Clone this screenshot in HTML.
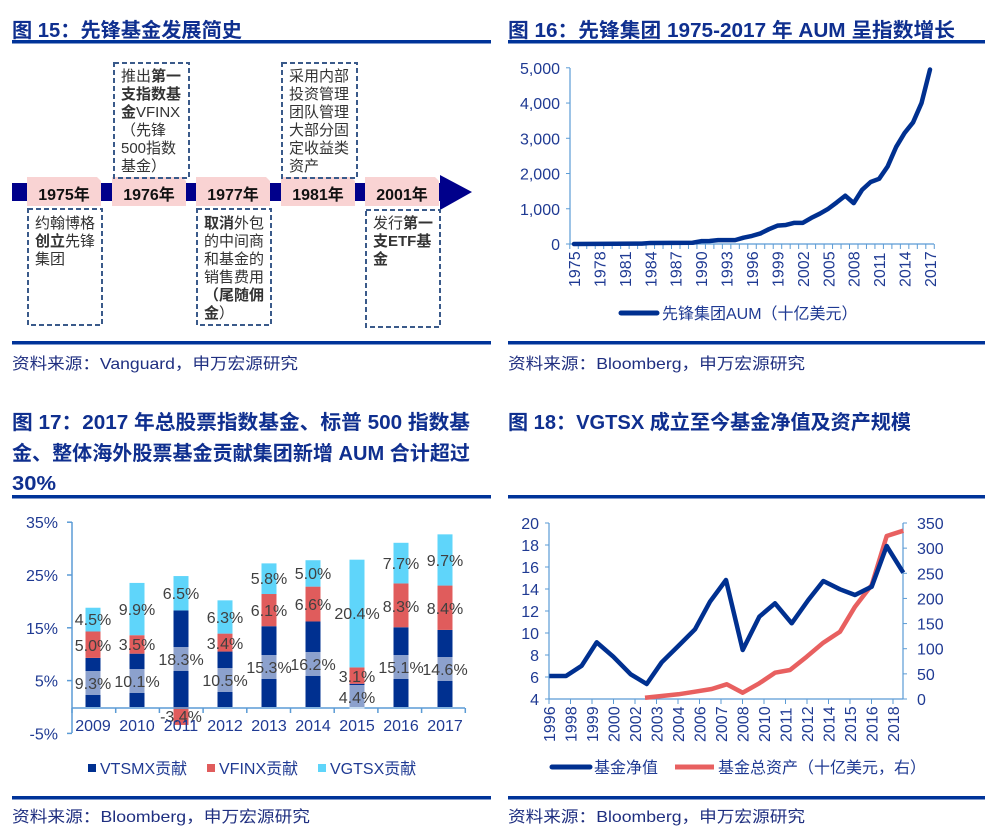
<!DOCTYPE html>
<html><head><meta charset="utf-8"><style>
html,body{margin:0;padding:0;background:#fff;}
svg{display:block;font-family:"Liberation Sans","Noto Sans CJK SC",sans-serif;}
.t{font-weight:bold;fill:#0f2f8f;font-size:20px;}
.src{fill:#1f2f80;font-size:16px;}
.ax{fill:#1f3a93;font-size:16px;}
.bx{font-size:15px;fill:#333;}
.yr{font-size:16px;font-weight:bold;fill:#111;text-anchor:middle;}
.lb{font-size:16px;fill:#404040;text-anchor:middle;}
</style></head><body>
<svg id="s" width="995" height="837" viewBox="0 0 995 837" xmlns="http://www.w3.org/2000/svg">
<!-- titles -->
<text class="t" x="12" y="37" textLength="230" lengthAdjust="spacingAndGlyphs">图 15：先锋基金发展简史</text>
<text class="t" x="508" y="37" textLength="447" lengthAdjust="spacingAndGlyphs">图 16：先锋集团 1975-2017 年 AUM 呈指数增长</text>
<rect x="12" y="40" width="479" height="3.5" fill="#003399"/>
<rect x="508" y="40" width="477" height="3.5" fill="#003399"/>
<rect x="12" y="341" width="479" height="3.5" fill="#003399"/>
<rect x="508" y="341" width="477" height="3.5" fill="#003399"/>
<text class="src" x="12" y="369" textLength="286" lengthAdjust="spacingAndGlyphs">资料来源：Vanguard，申万宏源研究</text>
<text class="src" x="508" y="369" textLength="297" lengthAdjust="spacingAndGlyphs">资料来源：Bloomberg，申万宏源研究</text>
<text class="t" x="12" y="429" textLength="458" lengthAdjust="spacingAndGlyphs">图 17：2017 年总股票指数基金、标普 500 指数基</text>
<text class="t" x="12" y="460" textLength="458" lengthAdjust="spacingAndGlyphs">金、整体海外股票基金贡献集团新增 AUM 合计超过</text>
<text class="t" x="12" y="490" textLength="44" lengthAdjust="spacingAndGlyphs">30%</text>
<text class="t" x="508" y="429" textLength="403" lengthAdjust="spacingAndGlyphs">图 18：VGTSX 成立至今基金净值及资产规模</text>
<rect x="12" y="495" width="479" height="3.5" fill="#003399"/>
<rect x="508" y="495" width="477" height="3.5" fill="#003399"/>
<rect x="12" y="796" width="479" height="3.5" fill="#003399"/>
<rect x="508" y="796" width="477" height="3.5" fill="#003399"/>
<text class="src" x="12" y="822" textLength="298" lengthAdjust="spacingAndGlyphs">资料来源：Bloomberg，申万宏源研究</text>
<text class="src" x="508" y="822" textLength="297" lengthAdjust="spacingAndGlyphs">资料来源：Bloomberg，申万宏源研究</text>

<!-- chart 15 timeline -->
<rect x="12" y="183" width="440" height="18" fill="#00008b"/>
<polygon points="440,175 472,192 440,210" fill="#00008b"/>
<g fill="#f9d3d3">
<polygon points="27,177 97,177 101,181 101,206 27,206"/>
<polygon points="112,177 182,177 186,181 186,206 112,206"/>
<polygon points="196,177 266,177 270,181 270,206 196,206"/>
<polygon points="281,177 351,177 355,181 355,206 281,206"/>
<polygon points="365,177 435,177 439,181 439,206 365,206"/>
</g>
<text class="yr" x="64" y="200">1975年</text>
<text class="yr" x="149" y="200">1976年</text>
<text class="yr" x="233" y="200">1977年</text>
<text class="yr" x="318" y="200">1981年</text>
<text class="yr" x="402" y="200">2001年</text>
<g fill="none" stroke="#3a5a8a" stroke-width="2" stroke-dasharray="5,3">
<rect x="28" y="209" width="74" height="116"/>
<rect x="114" y="63" width="75" height="115"/>
<rect x="197" y="209" width="74" height="116"/>
<rect x="282" y="63" width="75" height="115"/>
<rect x="366" y="210" width="74" height="117"/>
</g>
<g class="bx">
<text x="35" y="228">约翰博格</text>
<text x="35" y="246"><tspan font-weight="bold">创立</tspan>先锋</text>
<text x="35" y="264">集团</text>
<text x="121" y="81">推出<tspan font-weight="bold">第一</tspan></text>
<text x="121" y="99" font-weight="bold">支指数基</text>
<text x="121" y="117"><tspan font-weight="bold">金</tspan>VFINX</text>
<text x="121" y="135">（先锋</text>
<text x="121" y="153">500指数</text>
<text x="121" y="171">基金）</text>
<text x="204" y="228"><tspan font-weight="bold">取消</tspan>外包</text>
<text x="204" y="246">的中间商</text>
<text x="204" y="264">和基金的</text>
<text x="204" y="282">销售费用</text>
<text x="204" y="300" font-weight="bold">（尾随佣</text>
<text x="204" y="318"><tspan font-weight="bold">金</tspan>）</text>
<text x="289" y="81">采用内部</text>
<text x="289" y="99">投资管理</text>
<text x="289" y="117">团队管理</text>
<text x="289" y="135">大部分固</text>
<text x="289" y="153">定收益类</text>
<text x="289" y="171">资产</text>
<text x="373" y="228">发行<tspan font-weight="bold">第一</tspan></text>
<text x="373" y="246" font-weight="bold">支ETF基</text>
<text x="373" y="264" font-weight="bold">金</text>
</g>

<!-- chart 16 -->
<g id="c16"></g>
<!-- chart 17 -->
<g id="c17"></g>
<!-- chart 18 -->
<g id="c18"></g>
</svg>
<script>
var NS="http://www.w3.org/2000/svg";
function el(p,tag,a,txt){var e=document.createElementNS(NS,tag);for(var k in a)e.setAttribute(k,a[k]);if(txt!=null)e.textContent=txt;p.appendChild(e);return e;}
var AX="#5b9bd5",NAVY="#003090";
// chart 16
(function(){
var g=document.getElementById("c16");
function X(y){return 574+(y-1975)*8.476;} function Y(v){return 244-v*0.03524;}
el(g,"line",{x1:570,y1:68,x2:570,y2:244,stroke:AX,"stroke-width":1.2});
el(g,"line",{x1:570,y1:244,x2:934,y2:244,stroke:AX,"stroke-width":1.2});
for(var v=0;v<=5000;v+=1000){el(g,"line",{x1:566,y1:Y(v),x2:570,y2:Y(v),stroke:AX});
el(g,"text",{x:560,y:Y(v)+6,"text-anchor":"end",class:"ax"},v.toLocaleString("en-US"));}
for(var y=1975;y<=2018;y++){var x=574+(y-1975)*8.476-4.2;el(g,"line",{x1:x,y1:244,x2:x,y2:249,stroke:AX});}
for(var y=1975;y<=2017;y+=3){el(g,"text",{transform:"translate("+(X(y)+6)+",287) rotate(-90)",class:"ax","font-size":"15"},String(y));}
var d=[[1975,0],[1983,10],[1984,30],[1989,35],[1990,80],[1991,85],[1992,110],[1994,110],[1995,180],[1996,230],[1997,300],[1998,420],[1999,520],[2000,540],[2001,600],[2002,600],[2003,740],[2004,860],[2005,1000],[2006,1180],[2007,1370],[2008,1160],[2009,1540],[2010,1760],[2011,1850],[2012,2200],[2013,2750],[2014,3150],[2015,3450],[2016,4000],[2017,4950]];
el(g,"polyline",{points:d.map(function(p){return X(p[0])+","+Y(p[1]);}).join(" "),fill:"none",stroke:NAVY,"stroke-width":4.5,"stroke-linejoin":"round","stroke-linecap":"round"});
el(g,"line",{x1:621,y1:313,x2:657,y2:313,stroke:NAVY,"stroke-width":5,"stroke-linecap":"round"});
el(g,"text",{x:662,y:319,class:"ax",fill:"#1f3a93"},"先锋集团AUM（十亿美元）");
})();
// chart 17
(function(){
var g=document.getElementById("c17");
function Y(v){return 707-v*5.28;}
for(var v=-5;v<=35;v+=10){el(g,"line",{x1:67,y1:Y(v),x2:72,y2:Y(v),stroke:AX,"stroke-width":1.5});
el(g,"text",{x:58,y:Y(v)+6,"text-anchor":"end",class:"ax"},v+"%");}
var d=[[9.3,5.0,4.5],[10.1,3.5,9.9],[18.3,-3.4,6.5],[10.5,3.4,6.3],[15.3,6.1,5.8],[16.2,6.6,5.0],[4.4,3.1,20.4],[15.1,8.3,7.7],[14.6,8.4,9.7]];
var ly=[[683,645,619],[681,644,609],[659,716,593],[680,643,617],[667,610,578],[664,604,573],[697,676,613],[667,606,563],[669,608,560]];
var yrs=[2009,2010,2011,2012,2013,2014,2015,2016,2017];
for(var i=0;i<9;i++){
 var c=93+44*i,w=15,a=d[i],x=c-w/2;
 el(g,"rect",{x:x,y:Y(a[0]),width:w,height:a[0]*5.28,fill:"#003090"});
 if(a[1]>0){el(g,"rect",{x:x,y:Y(a[0]+a[1]),width:w,height:a[1]*5.28,fill:"#e05c5c"});
  el(g,"rect",{x:x,y:Y(a[0]+a[1]+a[2]),width:w,height:a[2]*5.28,fill:"#5fd5fa"});}
 else{el(g,"rect",{x:x,y:707,width:w,height:-a[1]*5.28,fill:"#e05c5c"});
  el(g,"rect",{x:x,y:Y(a[0]+a[2]),width:w,height:a[2]*5.28,fill:"#5fd5fa"});}
}
el(g,"line",{x1:72,y1:522,x2:72,y2:733,stroke:AX,"stroke-width":1.5});
el(g,"line",{x1:72,y1:708,x2:465,y2:708,stroke:AX,"stroke-width":1.5});
for(var i=0;i<=9;i++){var x=72+i*43.7;el(g,"line",{x1:x,y1:708,x2:x,y2:713,stroke:AX,"stroke-width":1.5});}
for(var i=0;i<9;i++){
 var c=93+44*i,x=c-7.5;
 el(g,"rect",{x:x,y:ly[i][0]-12,width:15,height:24,fill:"#fff","fill-opacity":0.55});
 var fmt=function(v){return v.toFixed(1)+"%";};
 for(var j=0;j<3;j++) el(g,"text",{x:c,y:ly[i][j]+6,class:"lb"},fmt(d[i][j]));
 el(g,"text",{x:c,y:731,class:"ax","text-anchor":"middle"},String(yrs[i]));
}
var L=[[88,"#003090","VTSMX贡献"],[207,"#e05c5c","VFINX贡献"],[318,"#5fd5fa","VGTSX贡献"]];
L.forEach(function(l){el(g,"rect",{x:l[0],y:764,width:8,height:8,fill:l[1]});el(g,"text",{x:l[0]+12,y:774,class:"ax",fill:"#1f3a93"},l[2]);});
})();
// chart 18
(function(){
var g=document.getElementById("c18");
el(g,"line",{x1:549,y1:523,x2:549,y2:699,stroke:AX,"stroke-width":1.2});
el(g,"line",{x1:903,y1:523,x2:903,y2:699,stroke:AX,"stroke-width":1.2});
el(g,"line",{x1:549,y1:699,x2:903,y2:699,stroke:AX,"stroke-width":1.2});
for(var v=4;v<=20;v+=2){var y=699-(v-4)*11;el(g,"line",{x1:545,y1:y,x2:549,y2:y,stroke:AX});
 el(g,"text",{x:539,y:y+6,"text-anchor":"end",class:"ax"},String(v));}
for(var v=0;v<=350;v+=50){var y=699-v*176/350;el(g,"line",{x1:903,y1:y,x2:907,y2:y,stroke:AX});
 el(g,"text",{x:917,y:y+6,class:"ax"},String(v));}
var yrs=[1996,1998,1999,2000,2002,2003,2004,2006,2007,2008,2010,2011,2012,2014,2015,2016,2018];
for(var i=0;i<17;i++){var x=549+i*21.5;el(g,"line",{x1:x,y1:699,x2:x,y2:704,stroke:AX});
 el(g,"text",{transform:"translate("+(x+6)+",742) rotate(-90)",class:"ax","font-size":"15"},String(yrs[i]));}
var nav=[[148,528],[198,528],[245,497],[290,427],[340,470],[392,523],[440,552],[485,487],[535,438],[585,388],[630,305],[678,240],[728,450],[778,350],[825,310],[875,370],[925,300],[970,243],[1020,268],[1065,285],[1115,260],[1160,138],[1210,218]];
var ast=[[435,593],[485,588],[535,583],[585,575],[635,567],[680,553],[728,578],[778,550],[825,518],[870,510],[920,470],[970,428],[1020,395],[1065,320],[1115,255],[1160,108],[1210,92]];
function P(a){return a.map(function(p){return (500+p[0]/3).toFixed(1)+","+(500+p[1]/3).toFixed(1);}).join(" ");}
el(g,"polyline",{points:P(ast),fill:"none",stroke:"#e86060","stroke-width":4.5,"stroke-linejoin":"round"});
el(g,"polyline",{points:P(nav),fill:"none",stroke:NAVY,"stroke-width":4.5,"stroke-linejoin":"round"});
el(g,"line",{x1:552,y1:767,x2:590,y2:767,stroke:NAVY,"stroke-width":5,"stroke-linecap":"round"});
el(g,"text",{x:594,y:773,class:"ax"},"基金净值");
el(g,"line",{x1:675,y1:767,x2:714,y2:767,stroke:"#e86060","stroke-width":5});
el(g,"text",{x:718,y:773,class:"ax"},"基金总资产（十亿美元，右）");
})();
</script>
</body></html>
